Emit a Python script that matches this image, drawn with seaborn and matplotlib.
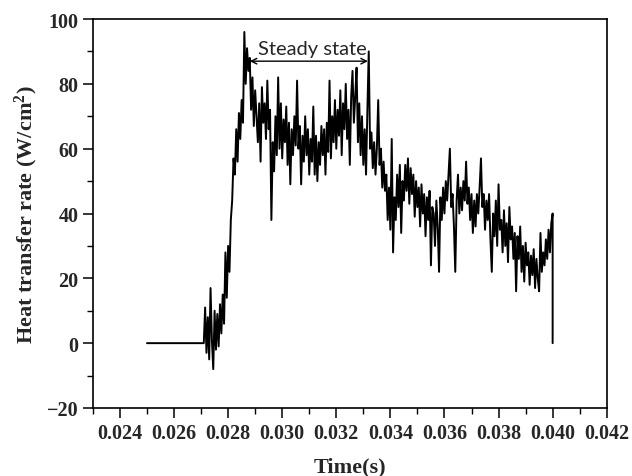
import numpy as np
import pandas as pd
import seaborn as sns
import matplotlib.pyplot as plt
from matplotlib.ticker import MultipleLocator

# heat transfer rate (W/cm2), sampled every 50 us starting at t = 0.0271 s
t_start = 0.0271
t_step = 0.00005
q_vals = [
    0, 11, -3, 8, -5, 17, 1, -8, 10, -2,
    9, -1, 12, 3, 15, 6, 28, 14, 30, 22,
    38, 44, 57, 52, 66, 56, 71, 63, 75, 68,
    96, 80, 91, 84, 88, 72, 82, 67, 78, 70,
    62, 74, 56, 79, 68, 74, 63, 81, 66, 72,
    38, 62, 53, 70, 58, 82, 60, 74, 57, 69,
    62, 73, 55, 68, 49, 66, 58, 70, 61, 81,
    60, 67, 49, 64, 56, 70, 58, 66, 52, 63,
    56, 73, 52, 64, 50, 62, 55, 67, 58, 66,
    52, 68, 59, 81, 57, 70, 62, 75, 60, 72,
    64, 78, 58, 74, 66, 80, 63, 72, 55, 76,
    84, 68, 76, 85, 62, 74, 58, 70, 55, 66,
    52, 72, 90, 60, 65, 54, 62, 52, 60, 75,
    55, 60, 48, 56, 47, 52, 38, 48, 35, 63,
    28, 45, 38, 52, 42, 55, 34, 50, 44, 55,
    47, 57, 43, 54, 46, 52, 39, 50, 42, 48,
    36, 49, 40, 46, 33, 45, 38, 47, 24, 42,
    40, 30, 44, 36, 22, 45, 38, 48, 40, 50,
    44, 52, 60, 42, 46, 36, 22, 44, 52, 40,
    48, 41, 50, 44, 56, 43, 48, 38, 46, 34,
    44, 36, 46, 40, 48, 57, 42, 46, 35, 44,
    38, 46, 32, 22, 40, 33, 44, 30, 49, 35,
    38, 28, 41, 30, 37, 25, 42, 32, 36, 26,
    34, 16, 33, 26, 36, 22, 30, 19, 31, 24,
    28, 18, 27, 21, 29, 17, 26, 20, 16, 34,
    22, 28, 24, 32, 26, 35, 28, 37, 40,
]
# flat baseline before ignition and the final drop at the end
t_lead, q_lead = [0.025], [0]
t_tail, q_tail = [0.040], [0]

t_meas = t_start + t_step * np.arange(len(q_vals))
df = pd.DataFrame({
    'time': np.concatenate([t_lead, t_meas, t_tail]),
    'q': np.concatenate([q_lead, q_vals, q_tail]),
})

sns.set_style('ticks')
plt.rcParams['font.family'] = ['Liberation Serif', 'DejaVu Serif']
plt.rcParams['font.weight'] = 'bold'
plt.rcParams['mathtext.fontset'] = 'custom'
plt.rcParams['mathtext.rm'] = 'Liberation Serif:bold'
plt.rcParams['mathtext.it'] = 'Liberation Serif:bold'

fig = plt.figure(figsize=(6.32, 4.77), dpi=100)
ax = fig.add_axes([0.147, 0.1426, 0.813, 0.8154])

sns.lineplot(data=df, x='time', y='q', ax=ax, color='black', lw=1.4,
             estimator=None, sort=False)

ax.set_xlim(0.023, 0.042)
ax.set_ylim(-20, 100)
ax.xaxis.set_major_locator(MultipleLocator(0.002))
ax.xaxis.set_minor_locator(MultipleLocator(0.001))
ax.yaxis.set_major_locator(MultipleLocator(20))
ax.yaxis.set_minor_locator(MultipleLocator(10))
ax.xaxis.set_major_formatter(plt.FuncFormatter(lambda v, p: f'{v:.3f}'))
ax.yaxis.set_major_formatter(plt.FuncFormatter(lambda v, p: f'{v:.0f}'.replace('-', '\u2212')))
ax.tick_params(which='major', length=7, width=1.1, labelsize=14.5, color='black')
ax.tick_params(which='minor', length=4, width=1.0, color='black')
for lab in ax.get_xticklabels() + ax.get_yticklabels():
    lab.set_fontweight('bold')
for s in ax.spines.values():
    s.set_linewidth(1.2)
    s.set_color('black')

ax.set_xlabel('Time(s)', fontsize=16, fontweight='bold', labelpad=10)
ax.set_ylabel('Heat transfer rate (W/cm$^2$)', fontsize=16, fontweight='bold', labelpad=5)

# steady state span marker
ax.annotate('', xy=(0.0288, 87), xytext=(0.03317, 87),
            arrowprops=dict(arrowstyle='<->', color='black', lw=1.0, shrinkA=0, shrinkB=0))
ax.text(0.03113, 88.3, 'Steady state', family='Lato', fontweight='normal',
        fontsize=14.5, ha='center', va='bottom')

fig.savefig('out.png', dpi=100)
